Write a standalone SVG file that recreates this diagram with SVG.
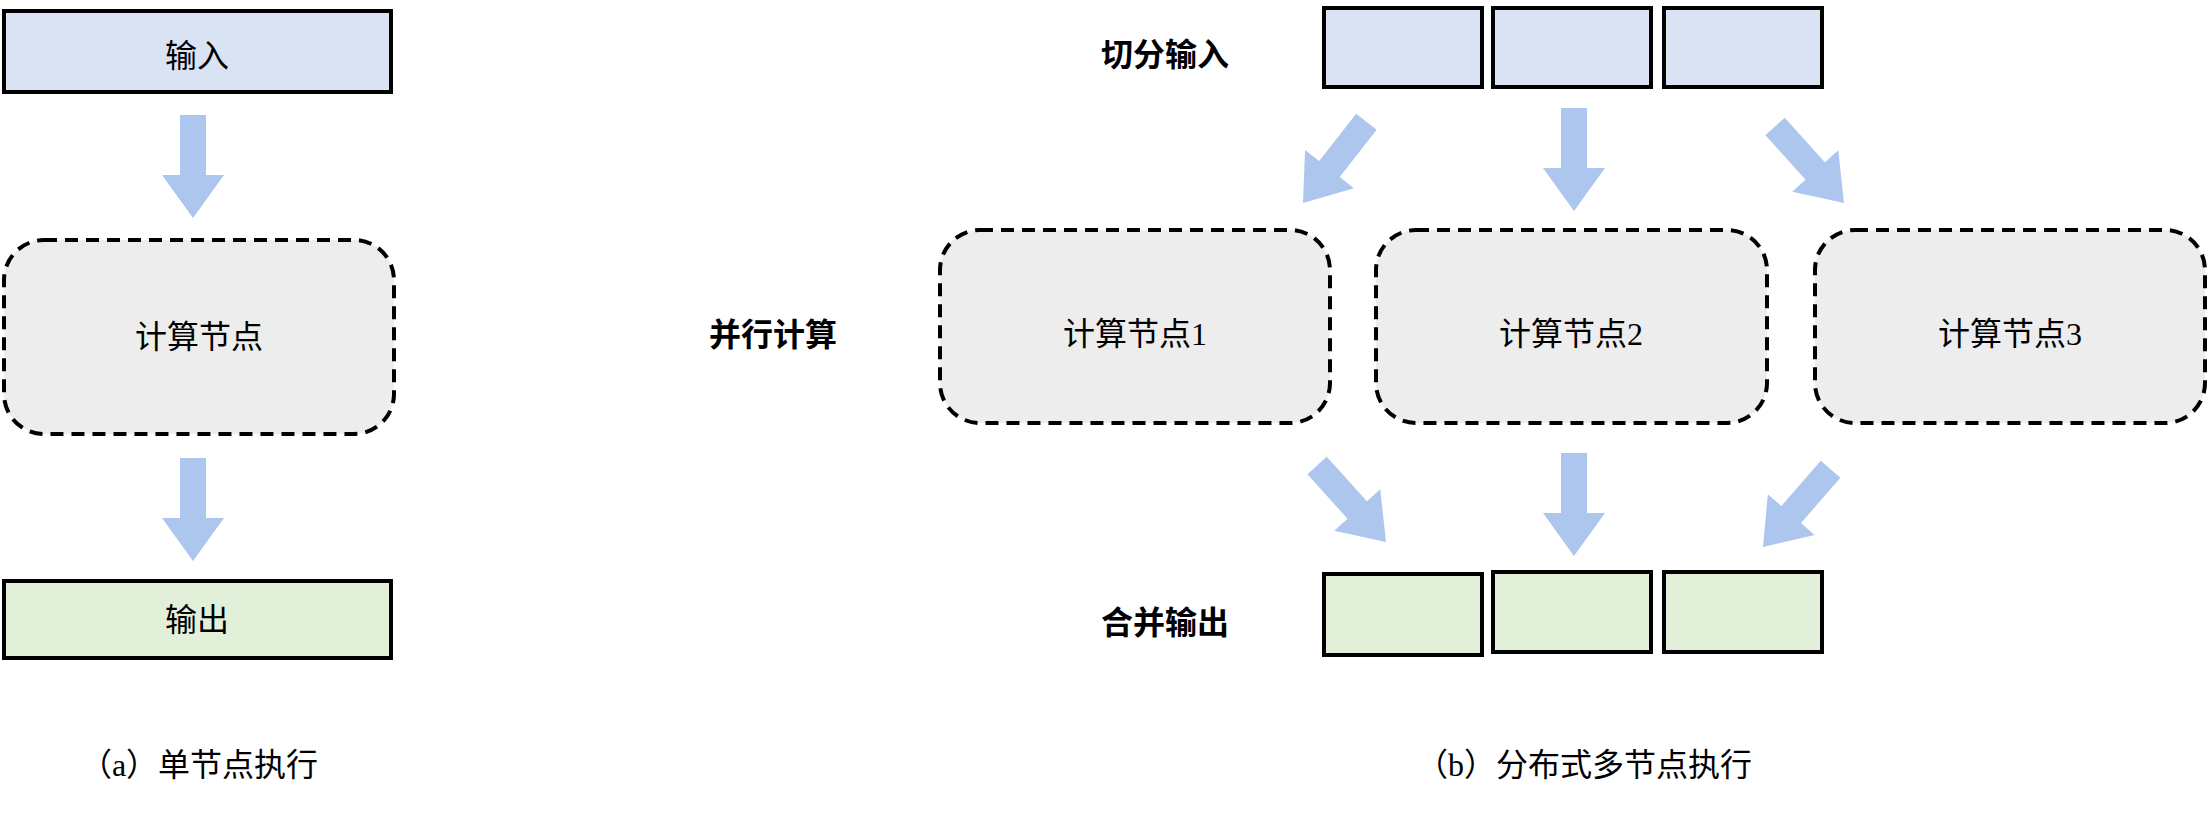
<svg xmlns="http://www.w3.org/2000/svg" xmlns:xlink="http://www.w3.org/1999/xlink" width="2209" height="815" viewBox="0 0 2209 815">
<style>
.in{fill:#dae3f3;stroke:#000;stroke-width:4}
.out{fill:#e2efd9;stroke:#000;stroke-width:4}
.node{fill:#ededed;stroke:#000;stroke-width:4;stroke-dasharray:13 8}
.t{font-family:"Liberation Serif","Noto Sans CJK SC",serif;font-size:32px;text-anchor:middle;dominant-baseline:central;fill:#000}
.b{font-family:"Noto Sans CJK SC",sans-serif;font-weight:bold;font-size:32px;text-anchor:middle;dominant-baseline:central;fill:#000}
.arr{fill:#adc6ee}
</style>
<defs>
<polygon id="arr" class="arr" points="0,0 -31,-43 -13,-43 -13,-103 13,-103 13,-43 31,-43"/>
</defs>
<g id="connectors">
<use xlink:href="#arr" transform="translate(193,218)"/>
<use xlink:href="#arr" transform="translate(193,561)"/>
<use xlink:href="#arr" transform="translate(1303,203) rotate(38)"/>
<use xlink:href="#arr" transform="translate(1574,211)"/>
<use xlink:href="#arr" transform="translate(1844,203) rotate(-42)"/>
<use xlink:href="#arr" transform="translate(1386,542) rotate(-42)"/>
<use xlink:href="#arr" transform="translate(1574,556)"/>
<use xlink:href="#arr" transform="translate(1763,547) rotate(41)"/>
</g>
<g id="a-input"><rect class="in" x="4" y="11" width="387" height="81"/><text class="t" x="197" y="56">输入</text></g>
<g id="a-node"><rect class="node" x="4" y="240" width="390" height="194" rx="40"/><text class="t" x="199" y="337">计算节点</text></g>
<g id="a-output"><rect class="out" x="4" y="581" width="387" height="77"/><text class="t" x="197" y="620">输出</text></g>
<g id="a-caption"><text class="t" x="199" y="765">（a）单节点执行</text></g>
<g id="split-label"><text class="b" x="1165" y="52">切分输入</text></g>
<g id="in1"><rect class="in" x="1324" y="8" width="158" height="79"/></g>
<g id="in2"><rect class="in" x="1493" y="8" width="158" height="79"/></g>
<g id="in3"><rect class="in" x="1664" y="8" width="158" height="79"/></g>
<g id="par-label"><text class="b" x="773" y="332">并行计算</text></g>
<g id="node1"><rect class="node" x="940" y="230" width="390" height="193" rx="40"/><text class="t" x="1135" y="334">计算节点1</text></g>
<g id="node2"><rect class="node" x="1376" y="230" width="391" height="193" rx="40"/><text class="t" x="1571" y="334">计算节点2</text></g>
<g id="node3"><rect class="node" x="1815" y="230" width="390" height="193" rx="40"/><text class="t" x="2010" y="334">计算节点3</text></g>
<g id="merge-label"><text class="b" x="1165" y="620">合并输出</text></g>
<g id="out1"><rect class="out" x="1324" y="574" width="158" height="81"/></g>
<g id="out2"><rect class="out" x="1493" y="572" width="158" height="80"/></g>
<g id="out3"><rect class="out" x="1664" y="572" width="158" height="80"/></g>
<g id="b-caption"><text class="t" x="1584" y="765">（b）分布式多节点执行</text></g>
</svg>
